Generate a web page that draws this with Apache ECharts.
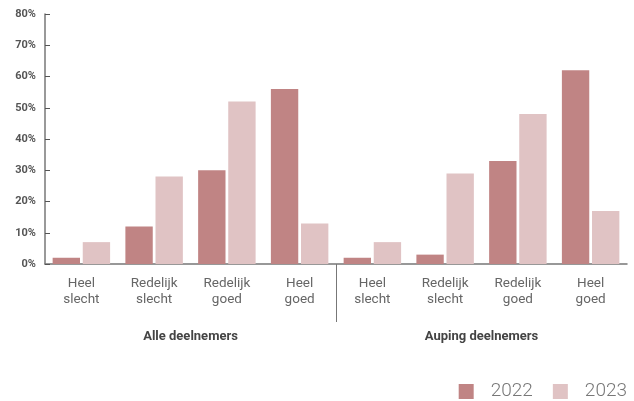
<!DOCTYPE html>
<html>
<head>
<meta charset="utf-8">
<script src="https://cdn.jsdelivr.net/npm/echarts@6/dist/echarts.min.js"></script>
<style>
  html, body { margin: 0; padding: 0; background: #fff; }
  #main { width: 634px; height: 401px; }
</style>
</head>
<body>
<div id="main"></div>
<script>
const categories = [
  'Heel\nslecht', 'Redelijk\nslecht', 'Redelijk\ngoed', 'Heel\ngoed',
  'Heel\nslecht', 'Redelijk\nslecht', 'Redelijk\ngoed', 'Heel\ngoed'
]
const groups = ['Alle deelnemers', 'Auping deelnemers']
const values2022 = [2, 12, 30, 56, 2, 3, 33, 62]
const values2023 = [7, 28, 52, 13, 7, 29, 48, 17]

const myChart = echarts.init(document.getElementById('main'))
const axisColor = '#777'
const option = {
  animation: false,
  textStyle: { fontFamily: 'Roboto' },
  grid: { left: 45, right: 7, top: 14, bottom: 137, containLabel: false },
  legend: {
    right: 2,
    top: 377,
    itemWidth: 15,
    itemHeight: 15,
    itemGap: 20,
    icon: 'rect',
    textStyle: { fontSize: 19, fontWeight: 300, color: '#777', padding: [0, 0, 0, 12] },
    data: ['2022', '2023']
  },
  xAxis: [
    {
      type: 'category',
      data: categories,
      axisLine: { lineStyle: { color: axisColor, width: 1.5 } },
      axisTick: { inside: true, length: 4, interval: 0, lineStyle: { color: '#555' } },
      axisLabel: { interval: 0, color: '#666', fontSize: 13.5, lineHeight: 16, margin: 12 }
    },
    {
      type: 'value',
      position: 'bottom',
      min: 0,
      max: groups.length,
      axisLine: { show: false },
      splitLine: { show: false },
      axisTick: {
        show: true,
        length: 58,
        customValues: [1],
        lineStyle: { color: axisColor, width: 1 }
      },
      axisLabel: {
        margin: 66,
        customValues: groups.map((g, i) => i + 0.5),
        formatter: function (v) { return groups[Math.floor(v)] },
        color: '#444',
        fontSize: 13,
        fontWeight: 'bold'
      }
    }
  ],
  yAxis: {
    type: 'value',
    min: 0,
    max: 80,
    interval: 10,
    axisLine: { show: true, lineStyle: { color: axisColor, width: 1.5 } },
    axisTick: { show: true, inside: true, length: 5, lineStyle: { color: '#555' } },
    splitLine: { show: false },
    axisLabel: { formatter: '{value}%', color: '#555', fontSize: 11, fontWeight: 'bold', margin: 9 }
  },
  series: [
    {
      name: '2022',
      type: 'bar',
      data: values2022,
      itemStyle: { color: '#c08484' },
      barGap: '10%',
      barCategoryGap: '21%'
    },
    {
      name: '2023',
      type: 'bar',
      data: values2023,
      itemStyle: { color: '#e0c3c4' }
    }
  ]
}

myChart.setOption(option)
</script>
</body>
</html>
